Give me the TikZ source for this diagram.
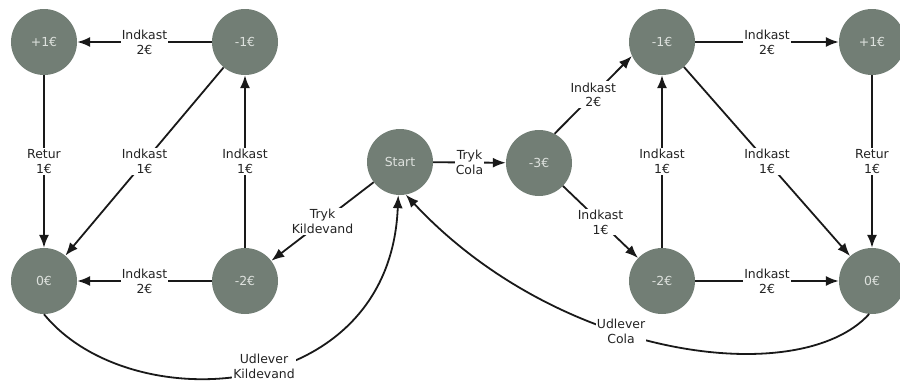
\documentclass[tikz,border=0pt]{standalone}
\usepackage{fontspec}
\setmainfont{DejaVu Sans}
\usetikzlibrary{arrows.meta}
\definecolor{statefill}{RGB}{114,126,117}
\definecolor{statetext}{RGB}{222,226,222}
\definecolor{labeltext}{RGB}{35,35,35}
\tikzset{
  state/.style={circle, fill=statefill, minimum size=66bp, inner sep=0pt,
    text=statetext, font=\fontsize{12.5}{14}\selectfont},
  trans/.style={draw=black!90, line width=1.8bp,
    -{Latex[length=13bp,width=10bp]}},
  lbl/.style={fill=white, inner sep=1.2bp, align=center, text=labeltext,
    font=\fontsize{12.5}{15}\selectfont},
}
\begin{document}
\begin{tikzpicture}[x=1bp, y=-1bp]
  \useasboundingbox (0,0) rectangle (900,382);

  % states of the "Kildevand" branch
  \node[state] (lp1) at (44,42)   {+1€};
  \node[state] (lm1) at (245,42)  {-1€};
  \node[state] (l0)  at (44,281)  {0€};
  \node[state] (lm2) at (245,281) {-2€};

  % start state and the "Cola" branch
  \node[state] (st)  at (400,162) {Start};
  \node[state] (m3)  at (539,163) {-3€};
  \node[state] (rm1) at (662,42)  {-1€};
  \node[state] (rp1) at (872,42)  {+1€};
  \node[state] (rm2) at (662,281) {-2€};
  \node[state] (r0)  at (872,281) {0€};

  % Kildevand transitions
  \draw[trans] (lm1) -- node[lbl] {Indkast\\2€} (lp1);
  \draw[trans] (lp1) -- node[lbl] {Retur\\1€} (l0);
  \draw[trans] (lm1) -- node[lbl] {Indkast\\1€} (l0);
  \draw[trans] (lm2) -- node[lbl] {Indkast\\1€} (lm1);
  \draw[trans] (lm2) -- node[lbl] {Indkast\\2€} (l0);
  \draw[trans] (st)  -- node[lbl] {Tryk\\Kildevand} (lm2);

  % Cola transitions
  \draw[trans] (st)  -- node[lbl] {Tryk\\Cola} (m3);
  \draw[trans] (m3.62) -- node[lbl] {Indkast\\2€} (rm1.205);
  \draw[trans] (m3)  -- node[lbl] {Indkast\\1€} (rm2);
  \draw[trans] (rm2) -- node[lbl] {Indkast\\1€} (rm1);
  \draw[trans] (rm1) -- node[lbl] {Indkast\\2€} (rp1);
  \draw[trans] (rm1) -- node[lbl] {Indkast\\1€} (r0);
  \draw[trans] (rp1) -- node[lbl] {Retur\\1€} (r0);
  \draw[trans] (rm2) -- node[lbl] {Indkast\\2€} (r0);

  % delivery back to start
  \draw[trans] (l0.south) .. controls (130,420) and (390,405) ..
    node[lbl, pos=0.53, yshift=3bp] {Udlever\\Kildevand} (st.-93);
  \draw[trans] (r0.-95) .. controls (800,390) and (560,360) ..
    node[lbl, pos=0.59] {Udlever\\Cola} (st.-80);
\end{tikzpicture}
\end{document}
